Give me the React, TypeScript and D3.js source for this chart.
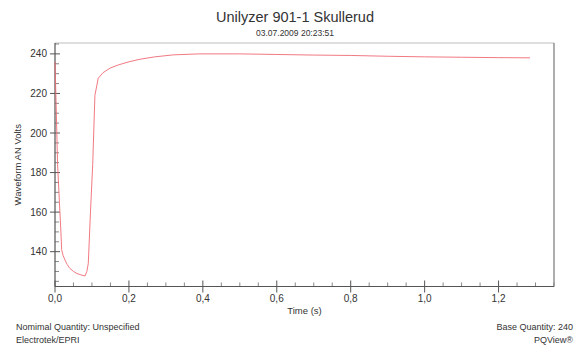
import * as d3 from 'd3';
import React from 'react';

const times = [0, 0.003, 0.007, 0.012, 0.016, 0.018, 0.022, 0.027, 0.033, 0.04, 0.05, 0.059, 0.07, 0.081, 0.086, 0.09, 0.096, 0.102, 0.108, 0.117, 0.13, 0.149, 0.171, 0.2, 0.23, 0.27, 0.32, 0.39, 0.5, 0.6, 0.7, 0.8, 0.9, 1.0, 1.1, 1.2, 1.285];
const volts = [236, 215, 184, 165, 150, 141, 138, 135.8, 133.5, 131.6, 130, 129, 128.3, 127.7, 129.9, 134, 160, 184, 219, 227.7, 230.5, 232.8, 234.4, 236, 237.3, 238.5, 239.5, 240, 240, 239.7, 239.4, 239.2, 238.8, 238.5, 238.3, 238.1, 238];
const xTicks = [0, 0.2, 0.4, 0.6, 0.8, 1.0, 1.2];
const yTicks = [140, 160, 180, 200, 220, 240];

export default function App() {
  const svgRef = React.useRef<SVGSVGElement>(null);

  React.useEffect(() => {
    if (svgRef.current == null) {
      return;
    }
    const w = 574;
    const h = 349;
    const left = 55;
    const right = 554;
    const top = 43;
    const bottom = 286.5;
    const font = 'Liberation Sans, Arial, sans-serif';

    const svg = d3.select(svgRef.current);
    svg.selectAll('*').remove();
    svg.append('rect').attr('width', w).attr('height', h).attr('fill', '#fff');

    const x = d3.scaleLinear().domain([0, 1.35]).range([left, right]);
    const y = d3.scaleLinear().domain([122.4, 245.5]).range([bottom, top]);

    // frame: light top/right, darker axes
    svg.append('line').attr('x1', left).attr('x2', right).attr('y1', top).attr('y2', top)
      .attr('stroke', '#bdbdbd').attr('stroke-width', 1.2);
    svg.append('line').attr('x1', right).attr('x2', right).attr('y1', top).attr('y2', bottom)
      .attr('stroke', '#777').attr('stroke-width', 1.2);

    const g = svg.append('g').style('font-family', font).style('font-size', '10px').attr('fill', '#333');

    // x minor ticks
    for (let i = 1; i <= 27; i++) {
      const t = i * 0.05;
      if (i % 4 === 0) continue;
      g.append('line').attr('x1', x(t)).attr('x2', x(t)).attr('y1', bottom).attr('y2', bottom - 4)
        .attr('stroke', '#888');
    }
    xTicks.forEach((t) => {
      g.append('line').attr('x1', x(t)).attr('x2', x(t)).attr('y1', bottom - 6).attr('y2', bottom + 6)
        .attr('stroke', '#555');
      g.append('text').attr('x', x(t)).attr('y', bottom + 15).attr('text-anchor', 'middle')
        .text(d3.format('.1f')(t).replace('.', ','));
    });

    // y minor ticks
    for (let v = 125; v <= 245; v += 5) {
      if (v % 20 === 0) continue;
      g.append('line').attr('x1', left).attr('x2', left + 4).attr('y1', y(v)).attr('y2', y(v))
        .attr('stroke', '#888');
    }
    yTicks.forEach((v) => {
      g.append('line').attr('x1', left - 5).attr('x2', left + 5).attr('y1', y(v)).attr('y2', y(v))
        .attr('stroke', '#555');
      g.append('text').attr('x', left - 8).attr('y', y(v) + 3.5).attr('text-anchor', 'end').text(v);
    });

    svg.append('line').attr('x1', left).attr('x2', right).attr('y1', bottom).attr('y2', bottom)
      .attr('stroke', '#555').attr('stroke-width', 1.2);
    svg.append('line').attr('x1', left).attr('x2', left).attr('y1', top).attr('y2', bottom)
      .attr('stroke', '#555').attr('stroke-width', 1.2);

    const line = d3.line<number>().x((d, i) => x(times[i])).y((d) => y(d));
    svg.append('path').datum(volts).attr('d', line).attr('fill', 'none')
      .attr('stroke', '#ee6a74').attr('stroke-width', 0.9);

    const cx = 295;
    svg.append('text').attr('x', cx).attr('y', 22).attr('text-anchor', 'middle')
      .style('font-family', font).style('font-size', '14.5px').attr('fill', '#333')
      .text('Unilyzer 901-1 Skullerud');
    svg.append('text').attr('x', cx).attr('y', 36).attr('text-anchor', 'middle')
      .style('font-family', font).style('font-size', '8.5px').attr('fill', '#333')
      .text('03.07.2009 20:23:51');

    svg.append('text').attr('transform', `translate(21, ${(top + bottom) / 2}) rotate(-90)`)
      .attr('text-anchor', 'middle').style('font-family', font).style('font-size', '9.5px').attr('fill', '#333')
      .text('Waveform AN Volts');
    svg.append('text').attr('x', (left + right) / 2).attr('y', 314).attr('text-anchor', 'middle')
      .style('font-family', font).style('font-size', '9.5px').attr('fill', '#333')
      .text('Time (s)');

    const foot = svg.append('g').style('font-family', font).style('font-size', '9px').attr('fill', '#333');
    foot.append('text').attr('x', 16).attr('y', 330).text('Nomimal Quantity: Unspecified');
    foot.append('text').attr('x', 16).attr('y', 343).text('Electrotek/EPRI');
    foot.append('text').attr('x', 573).attr('y', 330).attr('text-anchor', 'end').text('Base Quantity: 240');
    foot.append('text').attr('x', 573).attr('y', 343).attr('text-anchor', 'end').text('PQView®');
  }, []);

  return (
    <svg ref={svgRef} width={574} height={349}
      style={{ position: 'absolute', left: 0, top: 0, display: 'block' }}></svg>
  );
}
